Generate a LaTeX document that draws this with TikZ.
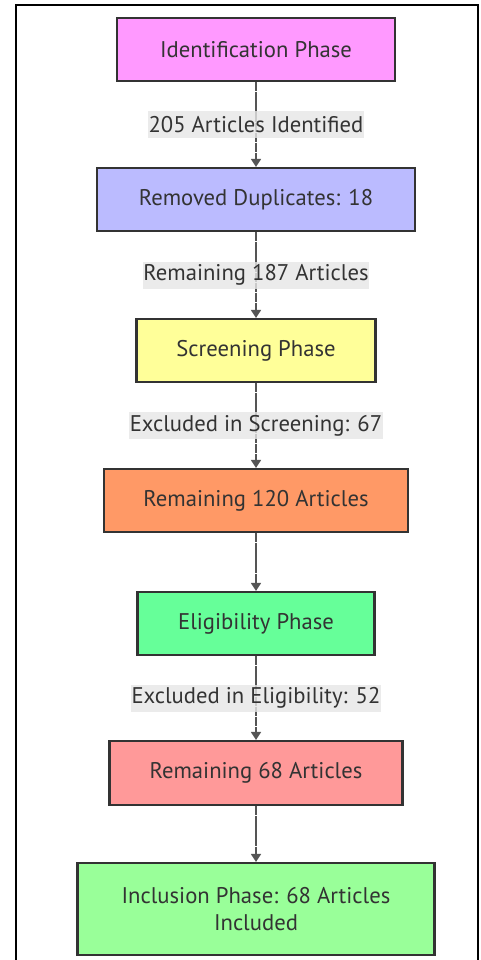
\documentclass[tikz,border=0pt]{standalone}
\usepackage{fontspec}
\setmainfont{PT Sans}
\usetikzlibrary{arrows.meta}
\definecolor{txt}{HTML}{333333}
\definecolor{bord}{HTML}{333333}
\definecolor{lbl}{HTML}{E6E6E6}
\definecolor{edge}{HTML}{555555}
\definecolor{c1}{HTML}{FF99FF}
\definecolor{c2}{HTML}{BBBBFF}
\definecolor{c3}{HTML}{FFFF99}
\definecolor{c4}{HTML}{FF9966}
\definecolor{c5}{HTML}{66FF99}
\definecolor{c6}{HTML}{FF9999}
\definecolor{c7}{HTML}{99FF99}
\tikzset{
  box/.style={draw=bord, line width=1.6pt, text=txt, font=\fontsize{17}{20}\selectfont, inner sep=0pt, anchor=center},
  lab/.style={fill=lbl, fill opacity=0.8, text opacity=1, text=txt, font=\fontsize{17}{20}\selectfont, inner xsep=0.5pt, inner ysep=0pt, minimum height=20.25pt},
  conn/.style={draw=edge, line width=1.1pt, dash pattern=on 7pt off 0.6pt, -{Triangle[width=7.5pt,length=6pt]}}
}
\begin{document}
\begin{tikzpicture}[x=0.75pt,y=-0.75pt]
\useasboundingbox (0,0) rectangle (480,960);
\fill[white] (0,0) rectangle (480,960);
\draw[black, line width=1.2pt] (16,980) -- (16,5) -- (478,5) -- (478,980);
% nodes (pixel coordinates)
\node[box, fill=c1, minimum width=208.5pt, minimum height=47.25pt] (n1) at (256,49.5) {Identification Phase};
\node[box, fill=c2, minimum width=238.5pt, minimum height=47.25pt] (n2) at (256,199.5) {Removed Duplicates: 18};
\node[box, fill=c3, minimum width=179.25pt, minimum height=47.25pt] (n3) at (256,350.5) {Screening Phase};
\node[box, fill=c4, minimum width=228pt, minimum height=47.25pt] (n4) at (256,500.5) {Remaining 120 Articles};
\node[box, fill=c5, minimum width=177.75pt, minimum height=47.25pt] (n5) at (256,623.5) {Eligibility Phase};
\node[box, fill=c6, minimum width=219.75pt, minimum height=48pt] (n6) at (256,773) {Remaining 68 Articles};
\node[box, fill=c7, minimum width=267.75pt, minimum height=69pt, align=center] (n7) at (256,909) {Inclusion Phase: 68 Articles\\Included};
% connectors
\draw[conn] (n1) -- (n2) node[lab, pos=0.5] (l1) {205 Articles Identified};
\draw[conn] (n2) -- (n3) node[lab, pos=0.5] (l2) {Remaining 187 Articles};
\draw[conn] (n3) -- (n4) node[lab, pos=0.5] (l3) {Excluded in Screening: 67};
\draw[conn] (n4) -- (n5);
\draw[conn] (n5) -- (n6) node[lab, pos=0.5] (l4) {Excluded in Eligibility: 52};
\draw[conn] (n6) -- (n7);
\end{tikzpicture}
\end{document}
